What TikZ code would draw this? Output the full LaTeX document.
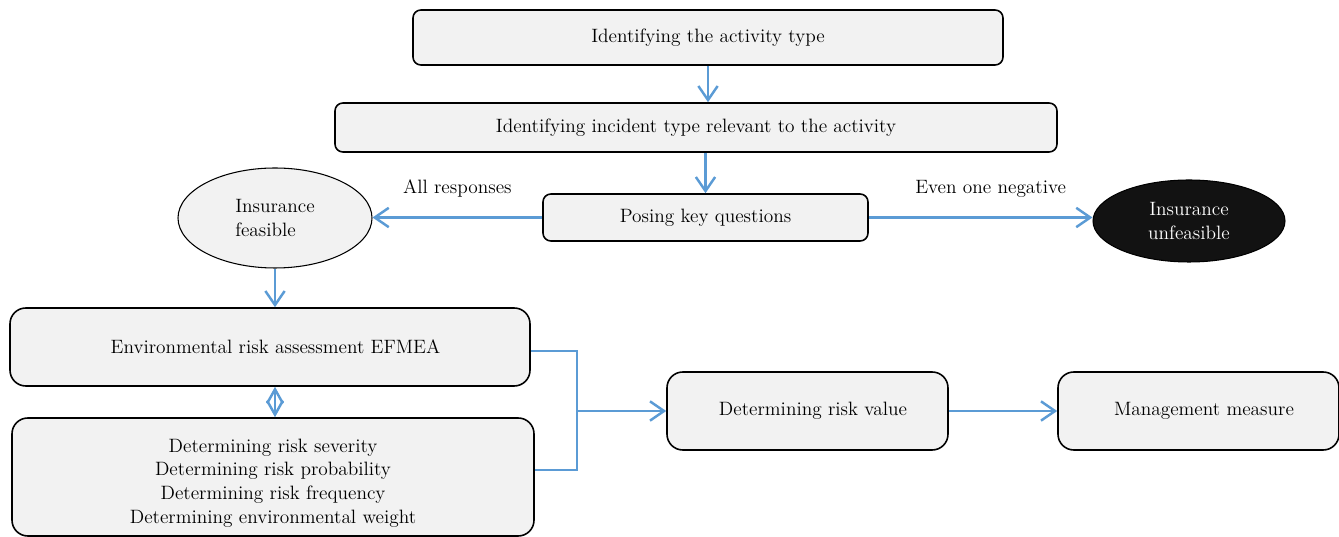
\documentclass[tikz,border=0pt]{standalone}
\usepackage{tikz}
\usetikzlibrary{arrows.meta,positioning,shapes.geometric,calc}
\definecolor{flowblue}{RGB}{91,155,213}
\definecolor{boxgray}{RGB}{242,242,242}

\begin{document}
\begin{tikzpicture}[
  stepbox/.style={draw=black, line width=0.9pt, fill=boxgray, rounded corners=4.5pt,
    inner sep=0pt, align=center, font=\fontsize{11}{13.4}\selectfont},
  bigbox/.style={stepbox, rounded corners=9pt},
  decision/.style={ellipse, draw=black, line width=0.6pt, inner sep=0pt,
    align=center, font=\fontsize{11}{13.4}\selectfont},
  flow/.style={draw=flowblue, line width=1.4pt, -{Straight Barb[length=8pt,width=11pt]}},
  edgelabel/.style={font=\fontsize{11}{13.4}\selectfont, inner sep=0pt}]

\useasboundingbox (0,0) rectangle (26.78,10.74);

% Upper chain
\node[stepbox, minimum width=11.8cm, minimum height=1.1cm] (activity) at (14.16,9.99) {Identifying the activity type};
\node[stepbox, minimum width=14.44cm, minimum height=0.98cm] (incident) at (13.92,8.19) {Identifying incident type relevant to the activity};
\node[stepbox, minimum width=6.5cm, minimum height=0.94cm] (questions) at (14.11,6.39) {Posing key questions};

\node[decision, fill=boxgray, align=left, minimum width=3.88cm, minimum height=2.0cm] (feasible) at (5.5,6.38) {Insurance\\feasible};
\node[decision, fill=black!93, text=white, minimum width=3.84cm, minimum height=1.64cm] (unfeasible) at (23.78,6.32) {Insurance\\unfeasible};

\draw[flow] (activity.south) -- (activity.south |- incident.north);
\draw[flow] (questions.north |- incident.south) -- (questions.north);
\draw[flow] (questions.west) -- (questions.west -| feasible.east)
  node[edgelabel, midway, above=0.38cm] (allresp) {All responses};
\draw[flow] (questions.east) -- (questions.east -| unfeasible.west)
  node[edgelabel, midway, above=0.38cm, xshift=0.2cm] (negative) {Even one negative};

% Assessment part
\node[bigbox, minimum width=10.4cm, minimum height=1.56cm] (efmea) at (5.4,3.8) {\hspace*{0.22cm}Environmental risk assessment EFMEA};
\node[bigbox, minimum width=10.44cm, minimum height=2.36cm] (criteria) at (5.46,1.2)
  {\raisebox{-0.12cm}[\height][\depth]{\begin{tabular}{@{}c@{}}Determining risk severity\\Determining risk probability\\Determining risk frequency\\Determining environmental weight\end{tabular}}};
\node[bigbox, minimum width=5.62cm, minimum height=1.56cm] (riskvalue) at (16.15,2.52) {\hspace*{0.22cm}Determining risk value};
\node[bigbox, minimum width=5.62cm, minimum height=1.56cm] (measure) at (23.97,2.52) {\hspace*{0.22cm}Management measure};

\draw[flow] (feasible.south) -- (feasible.south |- efmea.north);
\draw[draw=flowblue, line width=1.4pt, {Straight Barb[length=8pt,width=9pt]}-{Straight Barb[length=8pt,width=9pt]}]
  (feasible.south |- efmea.south) -- (feasible.south |- criteria.north);

% Bracket
\coordinate (brk) at (11.54,2.52);
\draw[flowblue, line width=0.7pt] ($(efmea.east)+(0,-0.08)$) -| (brk) |- ($(criteria.east)+(0,0.14)$);
\draw[flow] (brk) -- (riskvalue.west);
\draw[flow] (riskvalue.east) -- (measure.west);

\end{tikzpicture}
\end{document}
